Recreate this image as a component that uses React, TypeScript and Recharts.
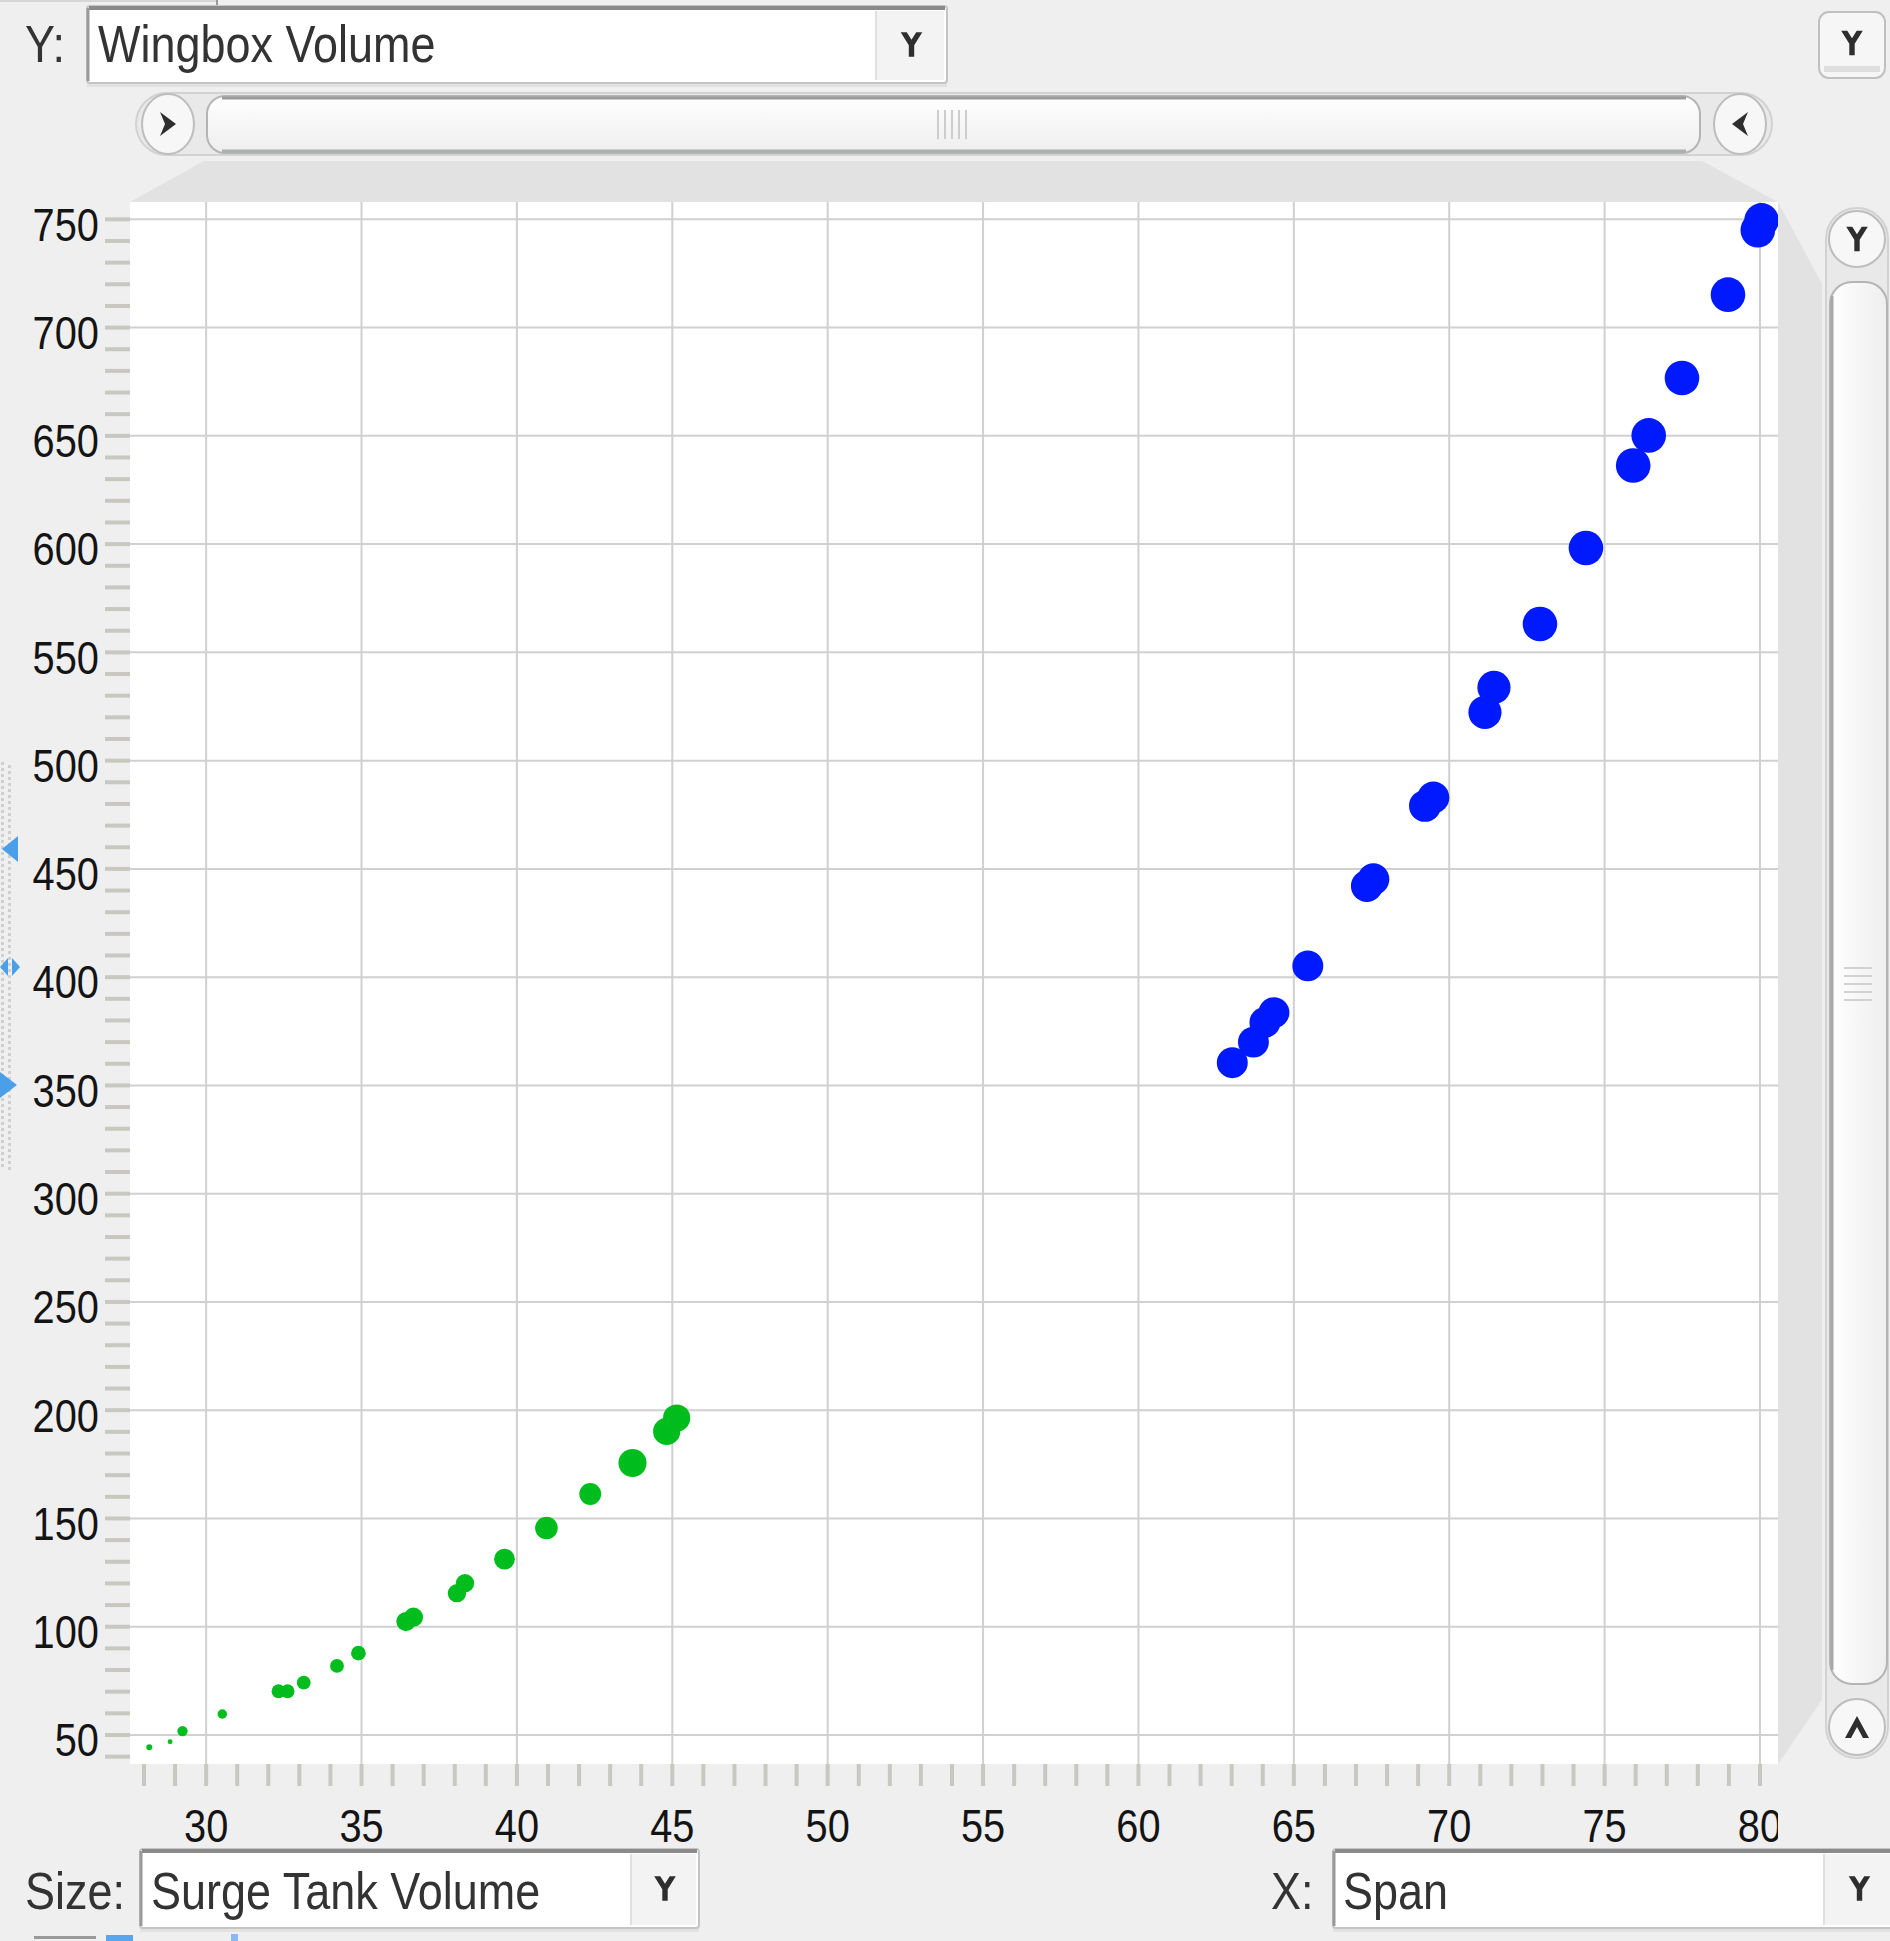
import React from "react";
import { ScatterChart, Scatter, XAxis, YAxis, ZAxis, CartesianGrid, ReferenceLine } from "recharts";

// ---- data (Span vs Wingbox Volume, size = Surge Tank Volume) ----
const blueSpan = [63.02, 63.7, 64.07, 64.36, 65.45, 67.35, 67.56, 69.22, 69.49, 71.15, 71.44, 72.92, 74.4, 75.92, 76.42, 77.49, 78.97, 79.93, 80.05];
const blueWingbox = [360.5, 370, 379.1, 383.6, 405.2, 442.1, 445.2, 479.1, 483, 522.3, 533.8, 563.1, 598.2, 636.3, 650.2, 676.7, 715.2, 745, 749.5];
const blueSurge = [80, 80, 80, 80, 80, 85, 85, 85, 85, 92, 92, 100, 100, 100, 100, 100, 100, 100, 100];

const greenSpan = [28.17, 28.84, 29.24, 30.52, 32.33, 32.62, 33.14, 34.21, 34.9, 36.43, 36.67, 38.07, 38.33, 39.6, 40.95, 42.36, 43.72, 44.82, 45.14];
const greenWingbox = [44.3, 46.9, 51.8, 59.7, 70.2, 70.2, 74.2, 81.9, 87.8, 102.4, 104.4, 115.5, 120.1, 131.2, 145.6, 161.3, 175.6, 190.2, 196.4];
const greenSurge = [3, 2, 9, 7.5, 16, 16, 16, 16, 18, 31, 31, 28, 28, 36, 43, 40, 66, 62, 62];

// ---- axes ----
const xDomain = [27.55, 80.58];
const yDomain = [36.6, 758];
const xMinorTicks = [28, 29, 30, 31, 32, 33, 34, 35, 36, 37, 38, 39, 40, 41, 42, 43, 44, 45, 46, 47, 48, 49, 50, 51, 52, 53, 54, 55, 56, 57, 58, 59, 60, 61, 62, 63, 64, 65, 66, 67, 68, 69, 70, 71, 72, 73, 74, 75, 76, 77, 78, 79, 80];
const xLabelTicks = [30, 35, 40, 45, 50, 55, 60, 65, 70, 75, 80];
const yMinorTicks = [40, 50, 60, 70, 80, 90, 100, 110, 120, 130, 140, 150, 160, 170, 180, 190, 200, 210, 220, 230, 240, 250, 260, 270, 280, 290, 300, 310, 320, 330, 340, 350, 360, 370, 380, 390, 400, 410, 420, 430, 440, 450, 460, 470, 480, 490, 500, 510, 520, 530, 540, 550, 560, 570, 580, 590, 600, 610, 620, 630, 640, 650, 660, 670, 680, 690, 700, 710, 720, 730, 740, 750];
const yLabelTicks = [50, 100, 150, 200, 250, 300, 350, 400, 450, 500, 550, 600, 650, 700, 750];
const surgeDomain = [0, 100];

const yFieldLabel = "Wingbox Volume";
const sizeFieldLabel = "Surge Tank Volume";
const xFieldLabel = "Span";

const blueData = blueSpan.map((x, i) => ({ x, y: blueWingbox[i], z: blueSurge[i] }));
const greenData = greenSpan.map((x, i) => ({ x, y: greenWingbox[i], z: greenSurge[i] }));

const FONT = "'Liberation Sans', Arial, sans-serif";
const SQ = 0.865;
const BG = "#efefef";
const TXT = "#333333";

function XTick(props: any) {
  const { x, y, payload } = props;
  if (!xLabelTicks.includes(payload.value)) return <g />;
  return (
    <g transform={`translate(${x},${y}) scale(${SQ},1)`}>
      <text x={0} y={0} dy="0.71em" textAnchor="middle" fontFamily={FONT} fontSize={46} fill="#141414">
        {payload.value}
      </text>
    </g>
  );
}

function YTick(props: any) {
  const { x, y, payload } = props;
  if (!yLabelTicks.includes(payload.value)) return <g />;
  return (
    <g transform={`translate(${x},${y + 5}) scale(${SQ},1)`}>
      <text x={0} y={0} dy="0.355em" textAnchor="end" fontFamily={FONT} fontSize={46} fill="#141414">
        {payload.value}
      </text>
    </g>
  );
}

function DownGlyph({ cx, cy }: { cx: number; cy: number }) {
  return (
    <polygon
      transform={`translate(${cx},${cy}) scale(1.35)`}
      points="-8,-9 -3.5,-9 0,-3.5 3.5,-9 8,-9 2,0.5 2,9 -2,9 -2,0.5"
      fill="#2e2e2e"
    />
  );
}

function Label({ x, y, text, size = 52 }: { x: number; y: number; text: string; size?: number }) {
  return (
    <g transform={`translate(${x},${y}) scale(${SQ},1)`}>
      <text x={0} y={0} fontFamily={FONT} fontSize={size} fill={TXT}>
        {text}
      </text>
    </g>
  );
}

function Combo({ x, y, w, h, btnW }: { x: number; y: number; w: number; h: number; btnW: number }) {
  return (
    <g>
      <rect x={x} y={y + h} width={w} height={4} fill="#e2e2e2" />
      <rect x={x} y={y} width={w} height={h} rx={3} fill="#ffffff" stroke="#c4c4c4" strokeWidth={2} />
      <line x1={x + 2} y1={y + 2} x2={x + w - 2} y2={y + 2} stroke="#8a8a8a" strokeWidth={4} />
      <line x1={x + 1} y1={y + 2} x2={x + 1} y2={y + h - 2} stroke="#9a9a9a" strokeWidth={3} />
      <rect x={x + w - btnW} y={y + 5} width={btnW - 3} height={h - 8} fill="#f3f3f3" />
      <line x1={x + w - btnW} y1={y + 5} x2={x + w - btnW} y2={y + h - 3} stroke="#e0e0e0" strokeWidth={2} />
      <DownGlyph cx={x + w - btnW / 2} cy={y + h / 2} />
    </g>
  );
}

function Chrome() {
  const dots: React.ReactNode[] = [];
  for (let yy = 762; yy < 1170; yy += 6) {
    dots.push(<rect key={"a" + yy} x={1} y={yy} width={3} height={3} fill="#cfcfcf" />);
    dots.push(<rect key={"b" + yy} x={8} y={yy + 3} width={3} height={3} fill="#cfcfcf" />);
  }
  return (
    <svg width={1890} height={1941} style={{ position: "absolute", left: 0, top: 0, pointerEvents: "none" }}>
      <defs>
        <linearGradient id="thumbH" x1="0" y1="0" x2="0" y2="1">
          <stop offset="0" stopColor="#ffffff" />
          <stop offset="1" stopColor="#eeeeee" />
        </linearGradient>
        <linearGradient id="thumbV" x1="0" y1="0" x2="1" y2="0">
          <stop offset="0" stopColor="#ffffff" />
          <stop offset="1" stopColor="#eeeeee" />
        </linearGradient>
      </defs>
      {/* top strip */}
      <line x1={0} y1={1} x2={216} y2={1} stroke="#d6d6d6" strokeWidth={2} />
      <line x1={217} y1={0} x2={217} y2={6} stroke="#9a9a9a" strokeWidth={2} />

      {/* perspective bands around the plot */}
      <polygon points="204,161 1702,161 1778,202 130,202" fill="#e2e2e2" />
      <polygon points="1778,202 1822,284 1822,1700 1778,1764" fill="#e2e2e2" />

      {/* Y field combo */}
      <Label x={25} y={62} text="Y:" />
      <Combo x={87} y={6} w={860} h={77} btnW={71} />
      <Label x={98} y={62} text={yFieldLabel} />

      {/* top-right button */}
      <rect x={1819} y={12} width={66} height={66} rx={10} fill="#f6f6f6" stroke="#c0c0c0" strokeWidth={2} />
      <rect x={1824} y={66} width={56} height={6} fill="#dedede" />
      <DownGlyph cx={1852} cy={43} />

      {/* horizontal scrollbar */}
      <rect x={136} y={93} width={1636} height={62} rx={31} fill="#e9e9e9" stroke="#d2d2d2" strokeWidth={2} />
      <rect x={207} y={96} width={1493} height={57} rx={18} fill="url(#thumbH)" stroke="#b4b4b4" strokeWidth={2} />
      <line x1={222} y1={98} x2={1686} y2={98} stroke="#9c9c9c" strokeWidth={3} />
      <line x1={222} y1={151} x2={1686} y2={151} stroke="#a9b0b0" strokeWidth={3} />
      {[938, 945, 952, 959, 966].map((gx) => (
        <line key={gx} x1={gx} y1={110} x2={gx} y2={139} stroke="#cdcdcd" strokeWidth={2} />
      ))}
      <ellipse cx={168} cy={124} rx={26} ry={30} fill="#f7f7f7" stroke="#bdbdbd" strokeWidth={2} />
      <polygon points="160,112 176,124 160,136 165,124" fill="#2e2e2e" />
      <ellipse cx={1740} cy={124} rx={26} ry={30} fill="#f7f7f7" stroke="#bdbdbd" strokeWidth={2} />
      <polygon points="1748,112 1732,124 1748,136 1743,124" fill="#2e2e2e" />

      {/* vertical scrollbar */}
      <rect x={1826} y={208} width={62} height={1550} rx={31} fill="#e9e9e9" stroke="#d2d2d2" strokeWidth={2} />
      <rect x={1830} y={282} width={57} height={1402} rx={22} fill="url(#thumbV)" stroke="#b4b4b4" strokeWidth={2} />
      <line x1={1832} y1={296} x2={1832} y2={1670} stroke="#a8a8a8" strokeWidth={3} />
      {[968, 976, 984, 992, 1000].map((gy) => (
        <line key={gy} x1={1844} y1={gy} x2={1872} y2={gy} stroke="#d2d2d2" strokeWidth={2} />
      ))}
      <circle cx={1857} cy={239} r={28} fill="#f7f7f7" stroke="#bdbdbd" strokeWidth={2} />
      <DownGlyph cx={1857} cy={239} />
      <circle cx={1857} cy={1727} r={28} fill="#f7f7f7" stroke="#bdbdbd" strokeWidth={2} />
      <polygon points="1845,1738 1857,1716 1869,1738 1863,1738 1857,1727 1851,1738" fill="#2e2e2e" />

      {/* left y-range slider */}
      {dots}
      <polygon points="2,849 18,836 18,862" fill="#4a9fe8" />
      <polygon points="0,967 8,958 8,976" fill="#4a9fe8" />
      <polygon points="20,967 12,958 12,976" fill="#4a9fe8" />
      <polygon points="0,1072 17,1085 0,1098" fill="#4a9fe8" />

      {/* cover: clip last x label at plot edge */}
      <rect x={1778} y={1790} width={48} height={56} fill={BG} />

      {/* bottom controls */}
      <Label x={25} y={1909} text="Size:" />
      <Combo x={140} y={1849} w={559} h={79} btnW={68} />
      <Label x={151} y={1909} text={sizeFieldLabel} />

      <Label x={1271} y={1909} text="X:" />
      <Combo x={1333} y={1849} w={562} h={79} btnW={71} />
      <Label x={1343} y={1909} text={xFieldLabel} />

      {/* cut-off icons at the very bottom */}
      <rect x={34} y={1936} width={62} height={3} fill="#9a9a9a" />
      <rect x={106} y={1935} width={27} height={6} fill="#5aa6ee" />
      <rect x={231} y={1934} width={7} height={7} fill="#8ab8f0" />
    </svg>
  );
}

export default function App() {
  return (
    <div style={{ position: "absolute", left: 0, top: 0, width: 1890, height: 1941, background: BG, overflow: "hidden", fontFamily: FONT }}>
      <div style={{ position: "absolute", left: 0, top: 0 }}>
        <ScatterChart width={1890} height={1941} margin={{ top: 202, right: 112, bottom: 0, left: 0 }}>
          <CartesianGrid fill="#ffffff" horizontal={false} vertical={false} />
          <XAxis
            type="number"
            dataKey="x"
            domain={xDomain}
            ticks={xMinorTicks}
            interval={0}
            height={177}
            tickSize={22}
            tickMargin={23}
            axisLine={false}
            tickLine={{ stroke: "#c8c8c0", strokeWidth: 4 }}
            tick={XTick}
            allowDataOverflow
          />
          <YAxis
            type="number"
            dataKey="y"
            domain={yDomain}
            ticks={yMinorTicks}
            interval={0}
            width={130}
            tickSize={25}
            tickMargin={6}
            axisLine={false}
            tickLine={{ stroke: "#c8c8c0", strokeWidth: 4 }}
            tick={YTick}
            allowDataOverflow
          />
          <ZAxis type="number" dataKey="z" domain={surgeDomain} range={[0, 940]} />
          <Scatter name="green" data={greenData} fill="#00bd1e" shape="circle" isAnimationActive={false} />
          <Scatter name="blue" data={blueData} fill="#0019ff" shape="circle" isAnimationActive={false} />
          {xLabelTicks.map((v) => (
            <ReferenceLine key={"vx" + v} x={v} stroke="#d0d0d0" strokeWidth={2} />
          ))}
          {yLabelTicks.map((v) => (
            <ReferenceLine key={"hy" + v} y={v} stroke="#d0d0d0" strokeWidth={2} />
          ))}
        </ScatterChart>
      </div>
      <Chrome />
    </div>
  );
}
